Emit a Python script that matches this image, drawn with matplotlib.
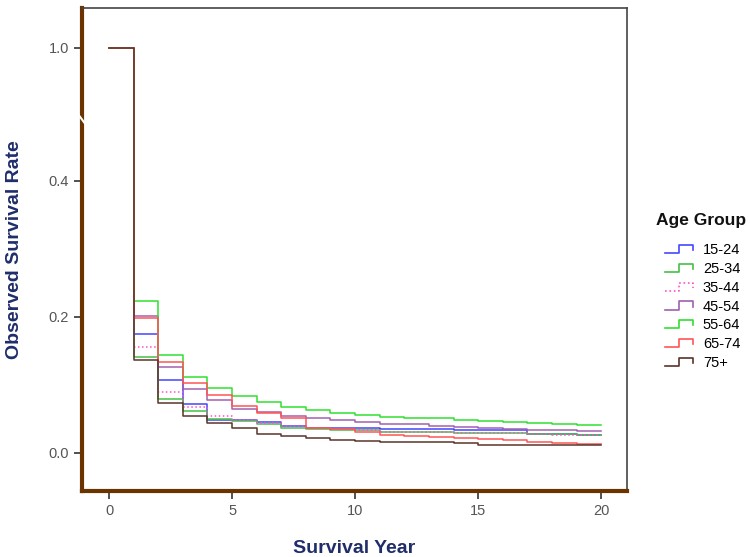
import numpy as np
import matplotlib
matplotlib.use("Agg")
import matplotlib.pyplot as plt
from matplotlib.legend_handler import HandlerBase
from matplotlib.lines import Line2D

# data: survival rate for each interval [t, t+1), t = 0..19
years = np.arange(0, 21)
groups = ["15-24", "25-34", "35-44", "45-54", "55-64", "65-74", "75+"]

s_15_24 = [1.0, 0.1745, 0.107, 0.072, 0.049, 0.0485, 0.046, 0.040, 0.0373, 0.0363,
           0.0363, 0.0355, 0.035, 0.035, 0.034, 0.034, 0.034, 0.0275, 0.0275, 0.0265]
s_25_34 = [1.0, 0.141, 0.080, 0.062, 0.0495, 0.047, 0.043, 0.037, 0.035, 0.034,
           0.033, 0.031, 0.0305, 0.0305, 0.030, 0.030, 0.029, 0.028, 0.0275, 0.027]
s_35_44 = [1.0, 0.156, 0.089, 0.067, 0.054, 0.049, 0.0436, 0.040, 0.036, 0.035,
           0.034, 0.031, 0.031, 0.0305, 0.0294, 0.029, 0.029, 0.0275, 0.0265, 0.0265]
s_45_54 = [1.0, 0.202, 0.127, 0.094, 0.078, 0.064, 0.060, 0.054, 0.052, 0.049,
           0.046, 0.043, 0.042, 0.040, 0.038, 0.036, 0.035, 0.034, 0.033, 0.0328]
s_55_64 = [1.0, 0.2235, 0.144, 0.112, 0.096, 0.084, 0.0755, 0.068, 0.063, 0.059,
           0.056, 0.0525, 0.052, 0.051, 0.0485, 0.047, 0.046, 0.0436, 0.042, 0.041]
s_65_74 = [1.0, 0.199, 0.133, 0.1025, 0.085, 0.0686, 0.059, 0.051, 0.0373, 0.0348,
           0.0314, 0.0265, 0.0255, 0.0235, 0.0216, 0.0201, 0.0186, 0.0157, 0.0142, 0.0132]
s_75 = [1.0, 0.137, 0.073, 0.055, 0.0436, 0.036, 0.0275, 0.025, 0.0216, 0.019,
        0.018, 0.0167, 0.016, 0.0155, 0.014, 0.012, 0.012, 0.0115, 0.011, 0.011]

series = [s_15_24, s_25_34, s_35_44, s_45_54, s_55_64, s_65_74, s_75]
colors = ["#4545ff", "#45c045", "#ff50c8", "#a060b0", "#30e030", "#ff5555", "#5a3428"]
styles = ["-", "-", ":", "-", "-", "-", "-"]

y_ticks = [0.0, 0.2, 0.4, 1.0]
x_ticks = [0, 5, 10, 15, 20]

# broken y axis: values above 0.4 are compressed
BREAK = 0.4
SQUEEZE = 0.326


def fwd(v):
    v = np.asarray(v, dtype=float)
    return np.where(v <= BREAK, v, BREAK + (v - BREAK) * SQUEEZE)


def inv(v):
    v = np.asarray(v, dtype=float)
    return np.where(v <= BREAK, v, BREAK + (v - BREAK) / SQUEEZE)


class StepHandler(HandlerBase):
    # legend glyph shaped like a small survival step
    def create_artists(self, legend, orig_handle, xdescent, ydescent,
                       width, height, fontsize, trans):
        x0, x1 = -xdescent, -xdescent + width
        xm = x0 + 0.5 * width
        lo = -ydescent + 0.1 * height
        hi = -ydescent + 0.9 * height
        line = Line2D([x0, xm, xm, x1, x1], [lo, lo, hi, hi, lo + 0.3 * height],
                      color=orig_handle.get_color(),
                      linestyle=orig_handle.get_linestyle(),
                      linewidth=1.2, transform=trans)
        return [line]


plt.rcParams["font.family"] = ["Liberation Sans", "DejaVu Sans"]

fig = plt.figure(figsize=(7.5, 5.57), dpi=100)
ax = fig.add_axes([0.1093, 0.1185, 0.7267, 0.867])
ax.set_yscale("function", functions=(fwd, inv))

handles = []
for vals, name, c, ls in zip(series, groups, colors, styles):
    y = list(vals) + [vals[-1]]
    h, = ax.step(years, y, where="post", color=c, linestyle=ls, linewidth=1.1, label=name)
    handles.append(h)

ax.set_xlim(-1.1, 21.05)
ax.set_ylim(-0.056, 1.18)
ax.set_xticks(x_ticks)
ax.set_yticks(y_ticks)
ax.set_xticklabels([str(t) for t in x_ticks])
ax.set_yticklabels([f"{t:.1f}" for t in y_ticks])
ax.tick_params(axis="both", colors="#333333", labelcolor="#555555", labelsize=10.5,
               length=6, width=1.2)

for side in ["left", "bottom"]:
    ax.spines[side].set_color("#6b3300")
    ax.spines[side].set_linewidth(3)
for side in ["top", "right"]:
    ax.spines[side].set_color("#444444")
    ax.spines[side].set_linewidth(1.2)

# break mark on the y axis
ax.plot([-1.25, -0.95], [0.70, 0.655], color="white", linewidth=1.5,
        clip_on=False, zorder=5)

ax.set_xlabel("Survival Year", fontsize=14, fontweight="bold", color="#1f2d6b", labelpad=16)
ax.set_ylabel("Observed Survival Rate", fontsize=14, fontweight="bold", color="#1f2d6b", labelpad=18)

leg = fig.legend(handles=handles, labels=groups, loc="upper left",
                 bbox_to_anchor=(0.869, 0.587), frameon=False, fontsize=10.5,
                 handler_map={Line2D: StepHandler()},
                 handlelength=1.95, handletextpad=0.65, labelspacing=0.33)
fig.text(656 / 750, 1 - 221 / 557, "Age Group", fontsize=12.5, fontweight="bold",
         color="#111111", ha="left", va="center")

fig.savefig("out.png", dpi=100)
